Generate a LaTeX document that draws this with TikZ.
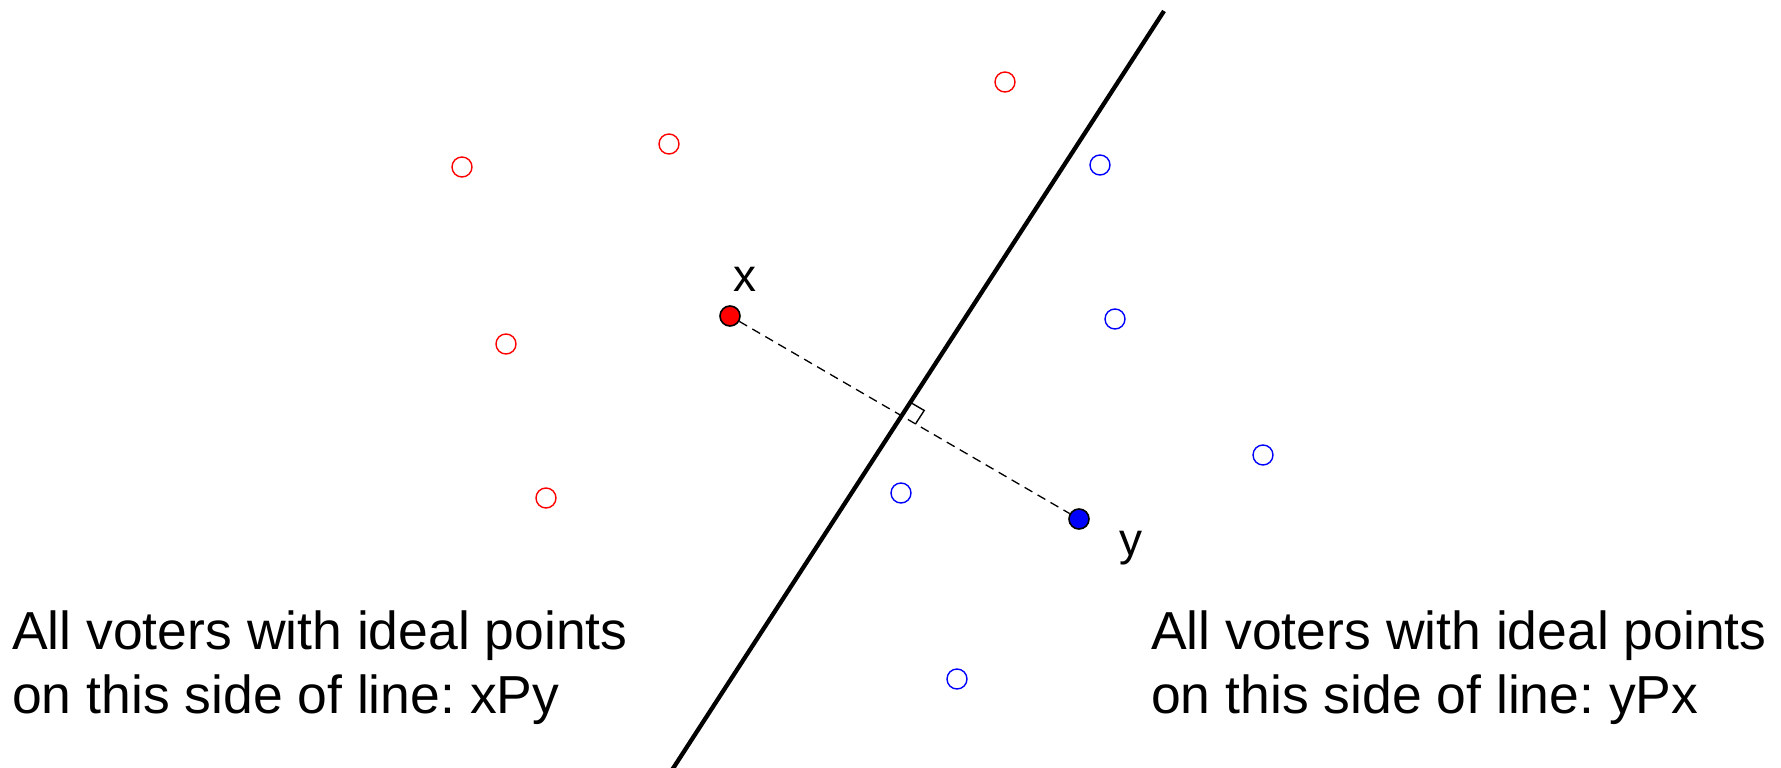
\documentclass[tikz,border=0pt]{standalone}
\usepackage{fontspec}
\setmainfont{Liberation Sans}
\frenchspacing
\usetikzlibrary{calc}
\begin{document}
\begin{tikzpicture}[x=1pt,y=-1pt,
  redv/.style={circle,draw=red,line width=1.4pt,minimum size=20pt,inner sep=0pt},
  bluev/.style={circle,draw=blue,line width=1.4pt,minimum size=20pt,inner sep=0pt},
  alt/.style={circle,draw=black,line width=1.6pt,minimum size=20pt,inner sep=0pt},
  lbl/.style={inner sep=0pt,anchor=base,font=\fontsize{46}{46}\selectfont},
  side/.style={inner sep=0pt,anchor=base west,font=\fontsize{53.5}{64}\selectfont\frenchspacing},
  divider/.style={line width=4.3pt},
  dist/.style={line width=1.3pt,dash pattern=on 9pt off 6pt}]
\useasboundingbox (0,0) rectangle (1781,768);
\fill[white] (0,0) rectangle (1781,768);
% dividing line
\coordinate (L1) at (1164,11);
\coordinate (L2) at (672,770);
\draw[divider] (L1) -- (L2);
% alternatives
\node[alt,fill=red] (x) at (730,316) {};
\node[alt,fill=blue] (y) at (1079,519) {};
\node[lbl] (xl) at (744.5,291) {x};
\node[lbl] (yl) at (1131,555) {y};
\draw[dist] (x) -- (y);
% right angle mark
\coordinate (F) at (intersection of L1--L2 and x--y);
\coordinate (Fu) at ($(F)!16pt!(y)$);
\coordinate (Fv) at ($(F)!16pt!(L1)$);
\draw[line width=1.4pt] (Fu) -- ($(Fu)+(Fv)-(F)$) -- (Fv);
% voters
\node[redv] (r1) at (462,167) {};
\node[redv] (r2) at (669,144) {};
\node[redv] (r3) at (1005,82) {};
\node[redv] (r4) at (506,344) {};
\node[redv] (r5) at (546,498) {};
\node[bluev] (b1) at (1100,165) {};
\node[bluev] (b2) at (1115,319) {};
\node[bluev] (b3) at (1263,455) {};
\node[bluev] (b4) at (901,493) {};
\node[bluev] (b5) at (957,679) {};
% texts
\node[side] (t1) at (12,649) {All voters with ideal points};
\node[side] (t2) at (12,713) {on this side of line: xPy};
\node[side] (t3) at (1151,649) {All voters with ideal points};
\node[side] (t4) at (1151,713) {on this side of line: yPx};
\end{tikzpicture}
\end{document}
